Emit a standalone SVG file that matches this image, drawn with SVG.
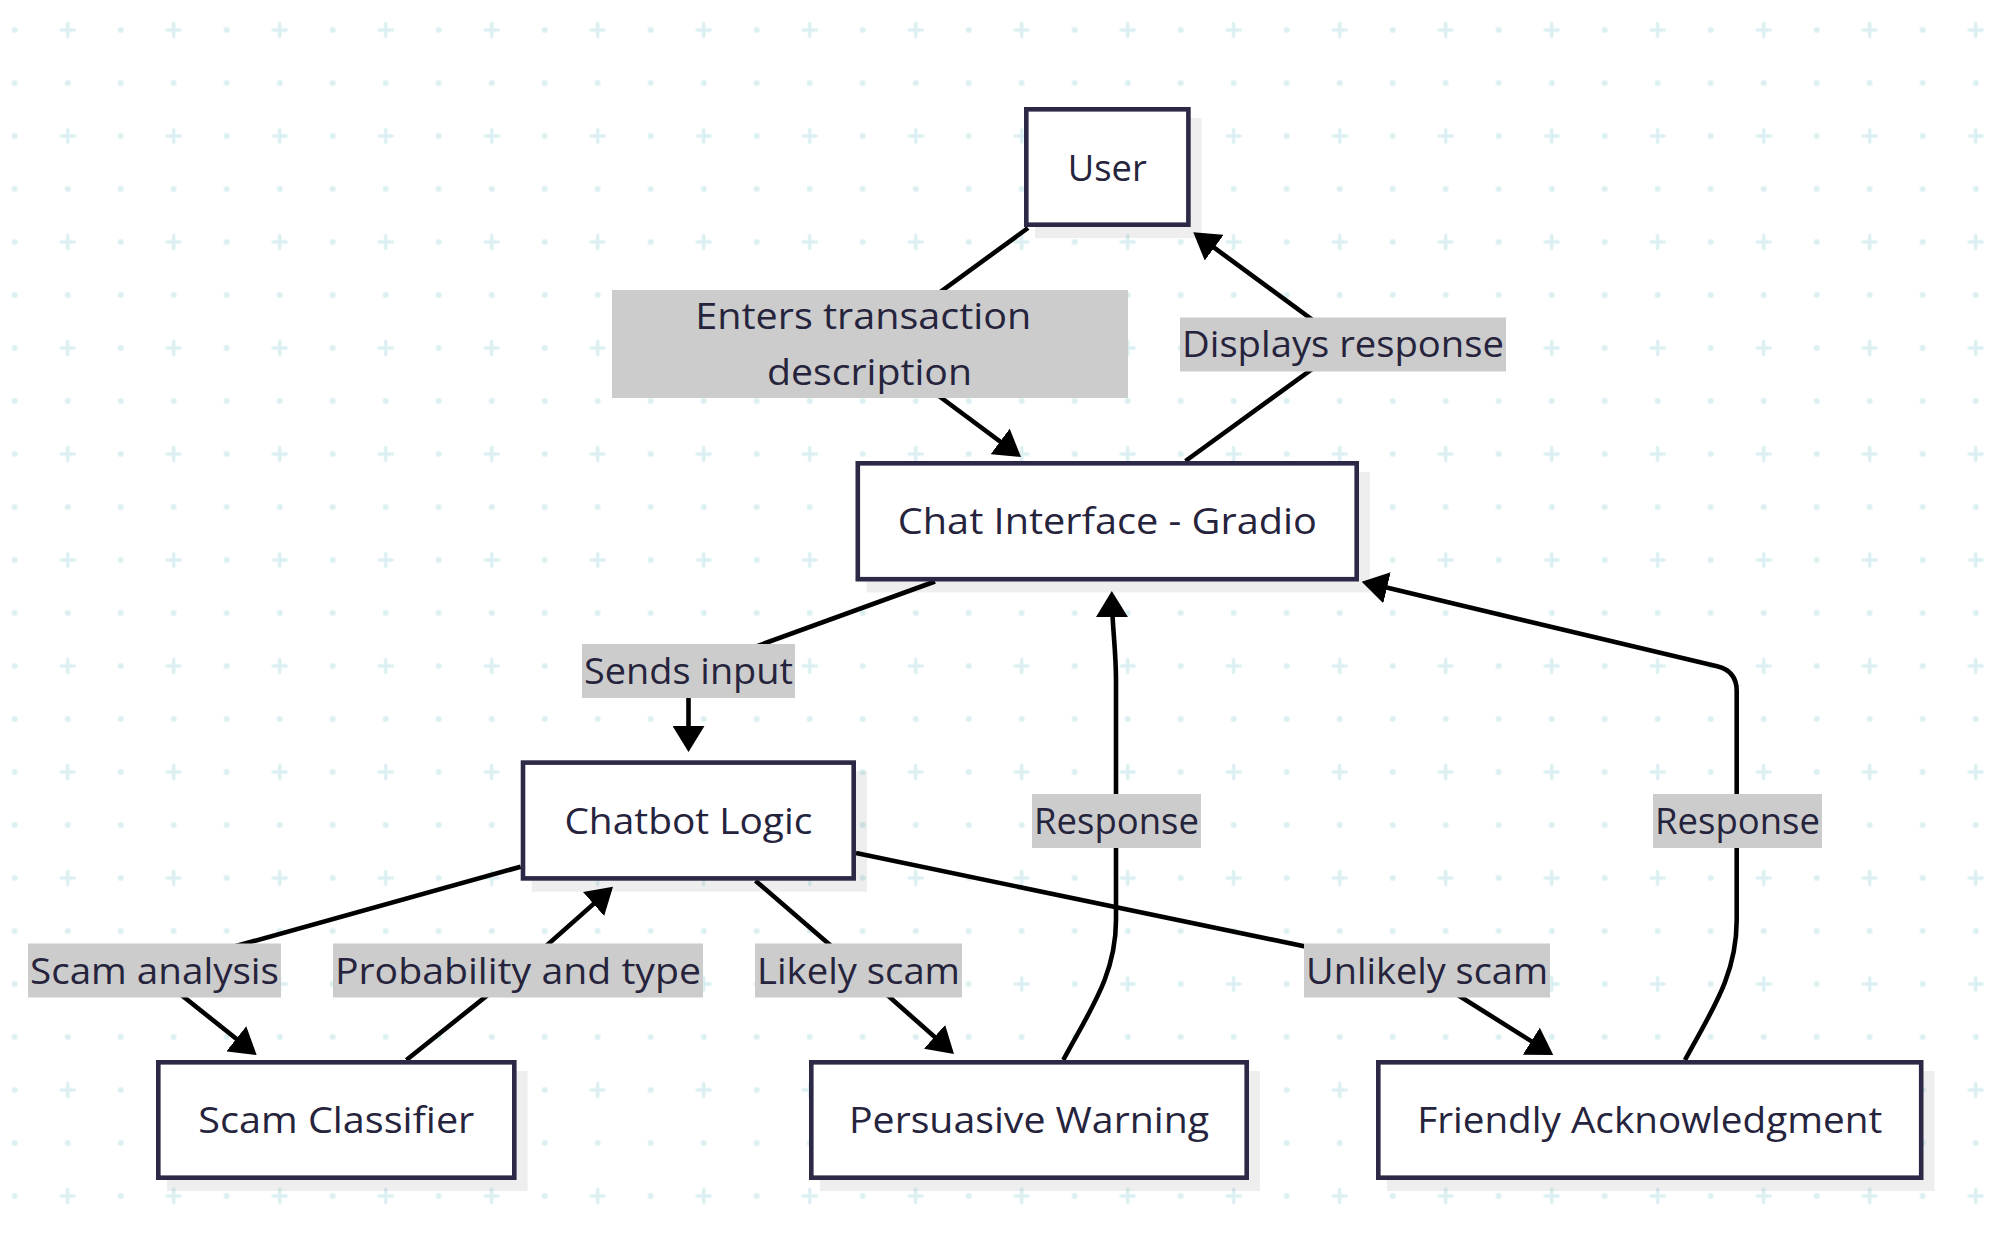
<svg xmlns="http://www.w3.org/2000/svg" width="2004" height="1242" viewBox="0 0 2004 1242">
<style>
.nodebox{fill:#ffffff;stroke:#2b2946;stroke-width:4.6}
.shadow{fill:rgba(0,0,0,0.065)}
.ntext{font-family:"Open Sans","Noto Sans","DejaVu Sans",sans-serif;font-size:37px;font-weight:500;fill:#26243d;text-anchor:middle}
.lbg{fill:#cccccc}
.ltext{font-family:"Open Sans","Noto Sans","DejaVu Sans",sans-serif;font-size:37px;font-weight:500;fill:#26243d;text-anchor:middle}
.edge{fill:none;stroke:#000000;stroke-width:4.6;stroke-linejoin:round}
.g{fill:#dcf0f2}
.gx{stroke:#dcf0f2;stroke-width:3.5;stroke-linecap:round}
</style>
<defs>
<pattern id="grid" patternUnits="userSpaceOnUse" x="-11.8" y="3.5" width="106" height="106">
<circle class="g" cx="26.5" cy="26.5" r="3"/>
<line class="gx" x1="73" y1="26.5" x2="86" y2="26.5"/>
<line class="gx" x1="79.5" y1="20" x2="79.5" y2="33"/>
<circle class="g" cx="26.5" cy="79.5" r="3"/>
<circle class="g" cx="79.5" cy="79.5" r="3"/>
</pattern>
<marker id="arrow" viewBox="0 0 26 32" refX="22" refY="16" markerWidth="26" markerHeight="32" markerUnits="userSpaceOnUse" orient="auto">
<path d="M0,0 L26,16 L0,32 z" fill="#000000"/>
</marker>
</defs>
<rect x="0" y="0" width="2004" height="1242" fill="#ffffff"/>
<rect x="0" y="0" width="2004" height="1242" fill="url(#grid)"/>

<g id="connectors">
<path class="edge" marker-end="url(#arrow)" d="M1028,228 L869,344 L1017.8,454.6"/>
<path class="edge" marker-end="url(#arrow)" d="M1185.5,461 L1346,344.5 L1196.5,234.7"/>
<path class="edge" marker-end="url(#arrow)" d="M935,581.5 L688.5,671 L688.5,748"/>
<path class="edge" marker-end="url(#arrow)" d="M520.7,866.7 L150,970 L253.5,1052.5"/>
<path class="edge" marker-end="url(#arrow)" d="M406.4,1060 L519,970 L610,889.4"/>
<path class="edge" marker-end="url(#arrow)" d="M755.5,880.7 L859,970 L951,1051.4"/>
<path class="edge" marker-end="url(#arrow)" d="M856,853 L1418,970 L1549.9,1052.9"/>
<path class="edge" marker-end="url(#arrow)" d="M1063.3,1060 C1090,1010 1116,975 1116,920 L1116,680 C1116,650 1112,625 1111.8,595"/>
<path class="edge" marker-end="url(#arrow)" d="M1685,1060 C1712,1010 1736.7,975 1736.7,920 L1736.7,691 Q1736.7,671 1717,666.3 L1365.6,582.6"/>
</g>

<g id="edge-labels">
<g id="label-enters">
<rect class="lbg" x="612" y="290" width="516" height="108"/>
<text class="ltext" x="863.3" y="329.3" textLength="336" lengthAdjust="spacingAndGlyphs">Enters transaction</text>
<text class="ltext" x="869.5" y="385" textLength="205" lengthAdjust="spacingAndGlyphs">description</text>
</g>
<g id="label-displays">
<rect class="lbg" x="1180" y="317.5" width="326" height="54"/>
<text class="ltext" x="1343" y="357" textLength="322" lengthAdjust="spacingAndGlyphs">Displays response</text>
</g>
<g id="label-sends">
<rect class="lbg" x="582" y="644" width="213" height="54"/>
<text class="ltext" x="688.5" y="684" textLength="209" lengthAdjust="spacingAndGlyphs">Sends input</text>
</g>
<g id="label-scam-analysis">
<rect class="lbg" x="28" y="943.5" width="253" height="54"/>
<text class="ltext" x="154.5" y="983.5" textLength="249" lengthAdjust="spacingAndGlyphs">Scam analysis</text>
</g>
<g id="label-probability">
<rect class="lbg" x="333" y="943.5" width="370" height="54"/>
<text class="ltext" x="518" y="983.5" textLength="366" lengthAdjust="spacingAndGlyphs">Probability and type</text>
</g>
<g id="label-likely">
<rect class="lbg" x="755" y="943.5" width="207" height="54"/>
<text class="ltext" x="858.5" y="983.5" textLength="203" lengthAdjust="spacingAndGlyphs">Likely scam</text>
</g>
<g id="label-unlikely">
<rect class="lbg" x="1304" y="943.5" width="246" height="54"/>
<text class="ltext" x="1427" y="983.5" textLength="242" lengthAdjust="spacingAndGlyphs">Unlikely scam</text>
</g>
<g id="label-response-1">
<rect class="lbg" x="1032" y="794" width="169" height="54"/>
<text class="ltext" x="1116.5" y="834" textLength="165" lengthAdjust="spacingAndGlyphs">Response</text>
</g>
<g id="label-response-2">
<rect class="lbg" x="1653" y="794" width="169" height="54"/>
<text class="ltext" x="1737.5" y="834" textLength="165" lengthAdjust="spacingAndGlyphs">Response</text>
</g>
</g>

<g id="node-user">
<rect class="shadow" x="1035" y="118" width="166.7" height="120"/>
<rect class="nodebox" x="1026.3" y="109.3" width="162.1" height="115.4"/>
<text class="ntext" x="1107.3" y="180.5" textLength="79" lengthAdjust="spacingAndGlyphs">User</text>
</g>
<g id="node-chat-interface">
<rect class="shadow" x="866.5" y="472" width="503.5" height="120.5"/>
<rect class="nodebox" x="857.8" y="463.3" width="498.9" height="115.9"/>
<text class="ntext" x="1107.3" y="533.5" textLength="419" lengthAdjust="spacingAndGlyphs">Chat Interface - Gradio</text>
</g>
<g id="node-chatbot-logic">
<rect class="shadow" x="531.7" y="771.3" width="335.3" height="120.4"/>
<rect class="nodebox" x="523" y="762.6" width="330.7" height="115.8"/>
<text class="ntext" x="688.4" y="834" textLength="248" lengthAdjust="spacingAndGlyphs">Chatbot Logic</text>
</g>
<g id="node-scam-classifier">
<rect class="shadow" x="167" y="1071" width="360.6" height="120"/>
<rect class="nodebox" x="158.3" y="1062.3" width="356" height="115.4"/>
<text class="ntext" x="336.3" y="1133" textLength="276" lengthAdjust="spacingAndGlyphs">Scam Classifier</text>
</g>
<g id="node-persuasive-warning">
<rect class="shadow" x="820" y="1071" width="440" height="120"/>
<rect class="nodebox" x="811.3" y="1062.3" width="435.4" height="115.4"/>
<text class="ntext" x="1029" y="1133" textLength="360" lengthAdjust="spacingAndGlyphs">Persuasive Warning</text>
</g>
<g id="node-friendly-ack">
<rect class="shadow" x="1387" y="1071" width="547.5" height="120"/>
<rect class="nodebox" x="1378.3" y="1062.3" width="542.9" height="115.4"/>
<text class="ntext" x="1649.7" y="1133" textLength="465" lengthAdjust="spacingAndGlyphs">Friendly Acknowledgment</text>
</g>
</svg>
